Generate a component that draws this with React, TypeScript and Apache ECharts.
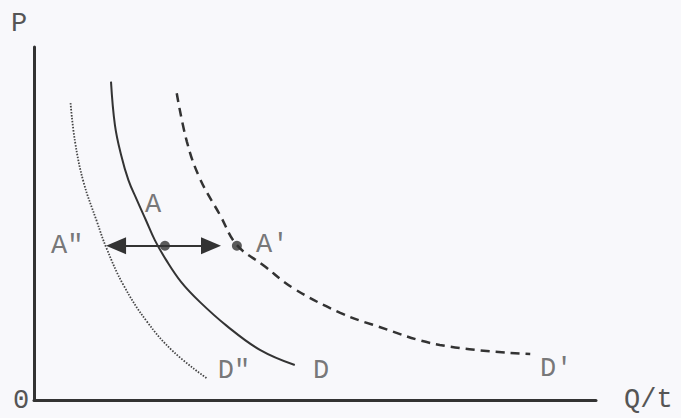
import React, { useEffect, useRef } from "react";
import * as echarts from "echarts";

// Demand curves (Q, P) in arbitrary units
const curveD: [number, number][] = [
  [1.37, 9.02], [1.44, 7.79], [1.55, 6.94], [1.68, 6.23], [1.83, 5.67], [1.99, 5.1],
  [2.15, 4.53], [2.35, 3.97], [2.62, 3.34], [2.95, 2.78], [3.43, 2.1], [4.02, 1.42], [4.64, 0.99],
];
const curveD2: [number, number][] = [
  [0.65, 8.41], [0.73, 7.32], [0.88, 6.18], [1.12, 5.05], [1.29, 4.3], [1.59, 3.26],
  [2.01, 2.22], [2.48, 1.37], [3.07, 0.62],
];
const curveD1: [number, number][] = [
  [2.54, 8.69], [2.72, 7.32], [2.95, 6.28], [3.31, 5.24], [3.61, 4.39], [4.08, 3.82],
  [4.61, 3.17], [5.45, 2.47], [6.03, 2.13], [7.22, 1.56], [8.83, 1.3],
];
const points: [number, number][] = [
  [2.33, 4.37],
  [3.61, 4.37],
];
const arrowStart: [number, number] = [2.33, 4.37];
const arrowEnds: [number, number][] = [
  [1.46, 4.37],
  [3.15, 4.37],
];
const labelNames = ["A", "A″", "A′", "D″", "D", "D′"];
const labelPos: [number, number][] = [
  [2.12, 5.52], [0.59, 4.37], [4.24, 4.39], [3.56, 0.82], [5.11, 0.82], [9.29, 0.87],
];

const INK = "#333";
const TEXT = "#555";
const FONT = "'Liberation Mono', 'DejaVu Sans Mono', monospace";
const FS = 27;

export default function App() {
  const ref = useRef<HTMLDivElement>(null);
  useEffect(() => {
    if (!ref.current) return;
    const chart = echarts.init(ref.current, undefined, { renderer: "svg" });
    chart.setOption({
      animation: false,
      backgroundColor: "#f8f8fb",
      grid: { left: 34, right: 85, top: 47, bottom: 18 },
      xAxis: {
        type: "value",
        min: 0,
        max: 10,
        name: "Q/t",
        nameLocation: "end",
        nameGap: 28,
        nameTextStyle: { fontFamily: FONT, fontSize: FS, color: TEXT, verticalAlign: "middle", padding: [6, 0, 0, 0] },
        axisLine: { show: true, onZero: false, lineStyle: { color: INK, width: 3 } },
        axisTick: { show: false },
        axisLabel: { show: false },
        splitLine: { show: false },
      },
      yAxis: {
        type: "value",
        min: 0,
        max: 10,
        name: "P",
        nameLocation: "end",
        nameGap: 10,
        nameTextStyle: { fontFamily: FONT, fontSize: FS, color: TEXT, align: "center", padding: [0, 30, 0, 0] },
        axisLine: { show: true, onZero: false, lineStyle: { color: INK, width: 3 } },
        axisTick: { show: false },
        axisLabel: { show: false },
        splitLine: { show: false },
      },
      graphic: [
        {
          type: "text",
          x: 21,
          y: 401,
          style: { text: "0", font: `${FS}px ${FONT}`, fill: TEXT, align: "center", verticalAlign: "middle" },
        },
      ],
      series: [
        {
          type: "line",
          data: curveD,
          smooth: 0.4,
          symbol: "none",
          lineStyle: { color: INK, width: 2, type: "solid" },
        },
        {
          type: "line",
          data: curveD2,
          smooth: 0.4,
          symbol: "none",
          lineStyle: { color: "#444", width: 1.8, type: [1.5, 1.5] },
        },
        {
          type: "line",
          data: curveD1,
          smooth: 0.4,
          symbol: "none",
          lineStyle: { color: INK, width: 2.5, type: [9, 6] },
        },
        {
          type: "line",
          data: [],
          markLine: {
            silent: true,
            symbol: ["none", "triangle"],
            symbolSize: [17, 20],
            label: { show: false },
            lineStyle: { color: INK, width: 2, type: "solid" },
            data: arrowEnds.map((e) => [{ coord: arrowStart }, { coord: e }]),
          },
        },
        {
          type: "scatter",
          data: points,
          symbol: "circle",
          symbolSize: 10,
          itemStyle: { color: INK },
        },
        {
          type: "scatter",
          data: labelPos.map((p, i) => ({ value: p, name: labelNames[i] })),
          symbolSize: 1,
          itemStyle: { color: "rgba(0,0,0,0)" },
          label: {
            show: true,
            position: "inside",
            formatter: (p: any) => p.name,
            fontFamily: FONT,
            fontSize: FS,
            color: TEXT,
          },
        },
      ],
    });
    return () => chart.dispose();
  }, []);
  return <div ref={ref} style={{ position: "absolute", left: 0, top: 0, width: 681, height: 418 }} />;
}
